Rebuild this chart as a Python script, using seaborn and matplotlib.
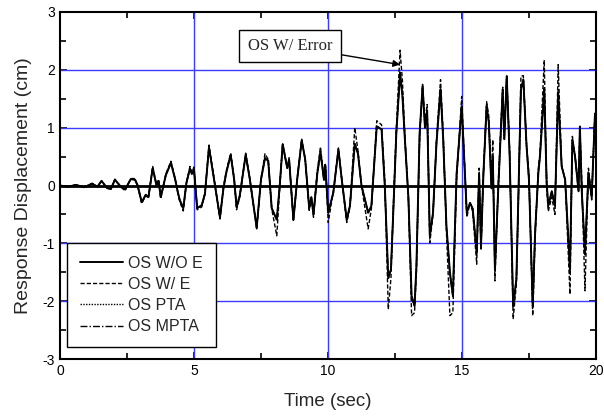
import matplotlib
matplotlib.use('Agg')
import matplotlib.pyplot as plt
from matplotlib.ticker import MultipleLocator
import pandas as pd
import seaborn as sns

# time of each read-off turning point (sec)
time_sec = [
    0.0, 0.3, 0.6, 0.9, 1.2, 1.4, 1.55, 1.75, 1.9, 2.05, 2.25, 2.43, 2.64, 2.8, 2.9, 3.05,
    3.2, 3.3, 3.46, 3.6, 3.68, 3.76, 3.95, 4.14, 4.3, 4.4, 4.47, 4.6, 4.72, 4.85, 4.92, 5.0,
    5.12, 5.29, 5.41, 5.56, 5.72, 5.97, 6.1, 6.2, 6.37, 6.5, 6.59, 6.71, 6.93, 7.08, 7.34, 7.5,
    7.65, 7.77, 7.9, 8.09, 8.2, 8.31, 8.48, 8.55, 8.71, 8.85, 9.02, 9.15, 9.3, 9.38, 9.46, 9.6,
    9.72, 9.85, 9.9,
    10.01, 10.2, 10.39, 10.52, 10.7, 10.82, 11.0, 11.12, 11.25, 11.5, 11.62, 11.82, 12.0, 12.12,
    12.25, 12.35, 12.45, 12.55, 12.69, 12.78, 12.87, 13.0, 13.12, 13.23, 13.3, 13.42, 13.53,
    13.62, 13.7, 13.75, 13.8, 13.92, 14.05, 14.2, 14.3, 14.42, 14.55, 14.66, 14.8, 14.99,
    15.18, 15.3, 15.4, 15.55, 15.64, 15.71, 15.8, 15.92, 16.0, 16.1, 16.15, 16.23, 16.35, 16.52,
    16.58, 16.67, 16.78, 16.91, 17.03, 17.1, 17.2, 17.29, 17.41, 17.5, 17.64, 17.73, 17.85,
    17.91, 18.07, 18.16, 18.22, 18.35, 18.47, 18.59, 18.72, 18.85, 19.03, 19.12, 19.22, 19.35,
    19.4, 19.47, 19.59, 19.72, 19.84, 19.96, 20.0,
]

os_wo_e = [
    0.0, -0.02, 0.01, -0.03, 0.03, -0.02, 0.08, -0.04, -0.06, 0.10, -0.01, -0.07, 0.11, 0.10, 0.0, -0.29,
    -0.16, -0.20, 0.30, 0.0, 0.08, -0.20, 0.18, 0.39, 0.10, -0.12, -0.25, -0.39, 0.05, 0.29, 0.20, 0.28,
    -0.39, -0.34, -0.14, 0.66, 0.19, -0.55, -0.05, 0.21, 0.53, 0.10, -0.37, -0.17, 0.53, 0.12, -0.73, 0.10,
    0.47, 0.43, -0.39, -0.59, 0.0, 0.71, 0.30, 0.45, -0.59, 0.10, 0.78, 0.45, -0.39, -0.20, -0.50, 0.20,
    0.58, 0.10, 0.35,
    -0.47, -0.12, 0.62, 0.08, -0.59, -0.35, 0.72, 0.55, 0.0, -0.47, -0.35, 1.02, 0.97, 0.0,
    -1.60, -1.45, -0.30, 0.90, 1.94, 1.54, 0.80, -0.20, -1.91, -2.08, -1.40, 0.90, 1.71,
    1.00, 1.30, 0.20, -0.87, -0.47, 0.74, 1.66, 0.80, -0.70, -1.50, -1.90, 0.20, 1.37,
    -0.47, -0.30, -0.40, -1.16, 0.20, -1.05, 0.20, 1.37, 1.10, -0.05, 0.50, -1.45, -0.10, 1.66,
    0.80, 1.89, 0.50, -2.08, -1.62, -0.30, 1.66, 1.83, 0.68, 0.10, -2.08, -0.80, 0.22,
    0.50, 1.66, 0.05, -0.35, -0.10, -0.35, 1.60, 0.33, 0.10, -1.45, 0.79, 0.50, -0.10,
    1.02, -0.10, -1.16, 0.22, -0.20, 1.20, 1.00,
]

os_w_e = [
    0.0, -0.02, 0.01, -0.03, 0.04, -0.02, 0.08, -0.05, -0.06, 0.11, -0.02, -0.09, 0.12, 0.12, -0.02, -0.31,
    -0.17, -0.22, 0.33, 0.02, 0.10, -0.23, 0.20, 0.42, 0.12, -0.14, -0.28, -0.44, 0.05, 0.33, 0.22, 0.32,
    -0.42, -0.37, -0.15, 0.70, 0.22, -0.58, -0.02, 0.24, 0.56, 0.12, -0.42, -0.20, 0.56, 0.14, -0.75, 0.12,
    0.55, 0.45, -0.40, -0.87, -0.05, 0.73, 0.30, 0.48, -0.62, 0.12, 0.80, 0.46, -0.43, -0.22, -0.55, 0.25,
    0.67, 0.10, 0.39,
    -0.64, -0.10, 0.65, 0.08, -0.64, -0.38, 1.00, 0.60, 0.0, -0.75, -0.40, 1.12, 1.05, 0.10,
    -2.14, -1.60, -0.20, 1.00, 2.34, 1.80, 0.85, -0.20, -2.25, -2.20, -1.50, 0.80, 1.75,
    1.10, 1.40, 0.30, -0.99, -0.50, 0.80, 1.83, 0.90, -0.80, -2.25, -2.20, 0.10, 1.54,
    -0.55, -0.30, -0.45, -1.36, 0.30, -1.10, 0.20, 1.45, 1.20, 0.10, 0.79, -1.65, 0.0, 1.70,
    0.90, 1.89, 0.60, -2.31, -1.70, -0.40, 1.89, 1.90, 0.70, 0.20, -2.25, -0.90, 0.30,
    0.55, 2.17, -0.05, -0.45, -0.20, -0.50, 2.09, 0.35, 0.10, -1.88, 0.85, 0.50, 0.0,
    0.95, 0.10, -1.82, 0.30, -0.25, 1.25, 1.00,
]

os_pta = [
    0.0, -0.02, 0.01, -0.03, 0.03, -0.02, 0.08, -0.04, -0.06, 0.10, -0.01, -0.07, 0.11, 0.10, 0.0, -0.30,
    -0.16, -0.20, 0.31, 0.0, 0.08, -0.21, 0.18, 0.40, 0.10, -0.12, -0.26, -0.40, 0.05, 0.30, 0.20, 0.29,
    -0.40, -0.34, -0.14, 0.67, 0.19, -0.56, -0.05, 0.21, 0.54, 0.10, -0.38, -0.17, 0.54, 0.12, -0.74, 0.10,
    0.48, 0.43, -0.39, -0.60, 0.0, 0.72, 0.30, 0.45, -0.60, 0.10, 0.79, 0.45, -0.40, -0.20, -0.51, 0.20,
    0.59, 0.10, 0.35,
    -0.48, -0.12, 0.63, 0.08, -0.60, -0.35, 0.73, 0.55, 0.0, -0.48, -0.35, 1.03, 0.97, 0.0,
    -1.62, -1.46, -0.30, 0.90, 1.96, 1.55, 0.80, -0.20, -1.93, -2.09, -1.40, 0.90, 1.72,
    1.00, 1.31, 0.20, -0.88, -0.47, 0.75, 1.68, 0.80, -0.71, -1.55, -1.92, 0.20, 1.38,
    -0.48, -0.30, -0.41, -1.18, 0.20, -1.06, 0.20, 1.38, 1.10, -0.05, 0.52, -1.47, -0.10, 1.67,
    0.80, 1.90, 0.50, -2.10, -1.63, -0.30, 1.68, 1.84, 0.68, 0.10, -2.10, -0.81, 0.22,
    0.50, 1.70, 0.05, -0.36, -0.10, -0.36, 1.64, 0.33, 0.10, -1.48, 0.80, 0.50, -0.10,
    1.02, -0.10, -1.20, 0.22, -0.20, 1.21, 1.00,
]

os_mpta = [
    0.0, -0.02, 0.01, -0.03, 0.03, -0.02, 0.08, -0.04, -0.06, 0.10, -0.01, -0.07, 0.11, 0.10, 0.0, -0.29,
    -0.16, -0.21, 0.30, 0.01, 0.08, -0.20, 0.18, 0.39, 0.11, -0.12, -0.25, -0.40, 0.05, 0.29, 0.21, 0.28,
    -0.39, -0.35, -0.14, 0.66, 0.20, -0.55, -0.05, 0.21, 0.53, 0.11, -0.37, -0.18, 0.53, 0.12, -0.73, 0.11,
    0.47, 0.43, -0.40, -0.59, 0.0, 0.71, 0.31, 0.45, -0.59, 0.10, 0.78, 0.46, -0.39, -0.21, -0.50, 0.21,
    0.58, 0.10, 0.36,
    -0.47, -0.13, 0.62, 0.09, -0.59, -0.36, 0.72, 0.56, 0.0, -0.47, -0.36, 1.02, 0.98, 0.0,
    -1.60, -1.45, -0.31, 0.90, 1.95, 1.54, 0.81, -0.20, -1.92, -2.08, -1.41, 0.90, 1.71,
    1.01, 1.30, 0.21, -0.87, -0.48, 0.74, 1.67, 0.81, -0.70, -1.52, -1.91, 0.21, 1.37,
    -0.47, -0.31, -0.40, -1.17, 0.21, -1.05, 0.21, 1.37, 1.11, -0.05, 0.51, -1.46, -0.11, 1.66,
    0.81, 1.89, 0.51, -2.09, -1.62, -0.31, 1.67, 1.83, 0.69, 0.10, -2.09, -0.80, 0.23,
    0.50, 1.68, 0.06, -0.35, -0.11, -0.35, 1.62, 0.34, 0.10, -1.46, 0.79, 0.51, -0.10,
    1.02, -0.11, -1.18, 0.22, -0.21, 1.20, 1.00,
]

series_names = ['OS W/O E', 'OS W/ E', 'OS PTA', 'OS MPTA']
series_vals = [os_wo_e, os_w_e, os_pta, os_mpta]
x_ticks = [0, 5, 10, 15, 20]
y_ticks = [-3, -2, -1, 0, 1, 2, 3]

sns.set_style('ticks')
plt.rcParams['font.family'] = ['Liberation Sans', 'DejaVu Sans']
plt.rcParams['axes.unicode_minus'] = False

fig = plt.figure(figsize=(6.04, 4.18), dpi=100)
ax = fig.add_axes([0.0993, 0.1411, 0.8874, 0.8302])

# blue grid + black zero line
for xv in x_ticks[1:-1]:
    ax.axvline(xv, color='#3b3bff', lw=1.0, zorder=1)
for yv in y_ticks[1:-1]:
    if yv != 0:
        ax.axhline(yv, color='#3b3bff', lw=1.0, zorder=1)
ax.axhline(0, color='black', lw=2.0, zorder=1.5)

styles = {
    'OS W/O E': dict(linestyle='-', lw=1.4, zorder=5),
    'OS W/ E': dict(linestyle=(0, (3, 1.5)), lw=1.0, zorder=3),
    'OS PTA': dict(linestyle=(0, (1, 1)), lw=1.0, zorder=4),
    'OS MPTA': dict(linestyle=(0, (5, 1.5, 1, 1.5)), lw=1.0, zorder=4),
}
for name, vals in zip(series_names, series_vals):
    df = pd.DataFrame({'t': time_sec, 'v': vals})
    sns.lineplot(data=df, x='t', y='v', ax=ax, color='black', label=name,
                 estimator=None, sort=False, **styles[name])

ax.set_xlim(0, 20)
ax.set_ylim(-3, 3)
ax.set_xticks(x_ticks)
ax.set_yticks(y_ticks)
ax.xaxis.set_minor_locator(MultipleLocator(2.5))
ax.yaxis.set_minor_locator(MultipleLocator(0.5))
ax.tick_params(which='both', direction='in', top=True, right=True, width=1.2,
               labelsize=10, colors='black')
ax.tick_params(which='major', length=5)
ax.tick_params(which='minor', length=4)
for sp in ax.spines.values():
    sp.set_linewidth(1.5)
    sp.set_color('black')

ax.set_xlabel('Time (sec)', fontsize=13.5, labelpad=11)
ax.set_ylabel('Response Displacement (cm)', fontsize=14, labelpad=8)

ax.annotate('OS W/ Error', xy=(12.69, 2.09), xytext=(8.58, 2.41),
            fontfamily='Liberation Serif', fontsize=12, ha='center', va='center',
            bbox=dict(boxstyle='square,pad=0.5', fc='white', ec='black', lw=1),
            arrowprops=dict(arrowstyle='-|>', color='black', lw=1,
                            shrinkA=0, shrinkB=0, mutation_scale=10),
            zorder=6)

leg = ax.legend(loc='lower left', bbox_to_anchor=(0.013, 0.035), fontsize=11.5,
                frameon=True, fancybox=False, edgecolor='black', framealpha=1,
                handlelength=2.7, handletextpad=0.35, labelspacing=0.38,
                borderpad=0.8, borderaxespad=0)
leg.get_frame().set_linewidth(1)
leg.set_zorder(7)

fig.savefig('out.png', dpi=100)
